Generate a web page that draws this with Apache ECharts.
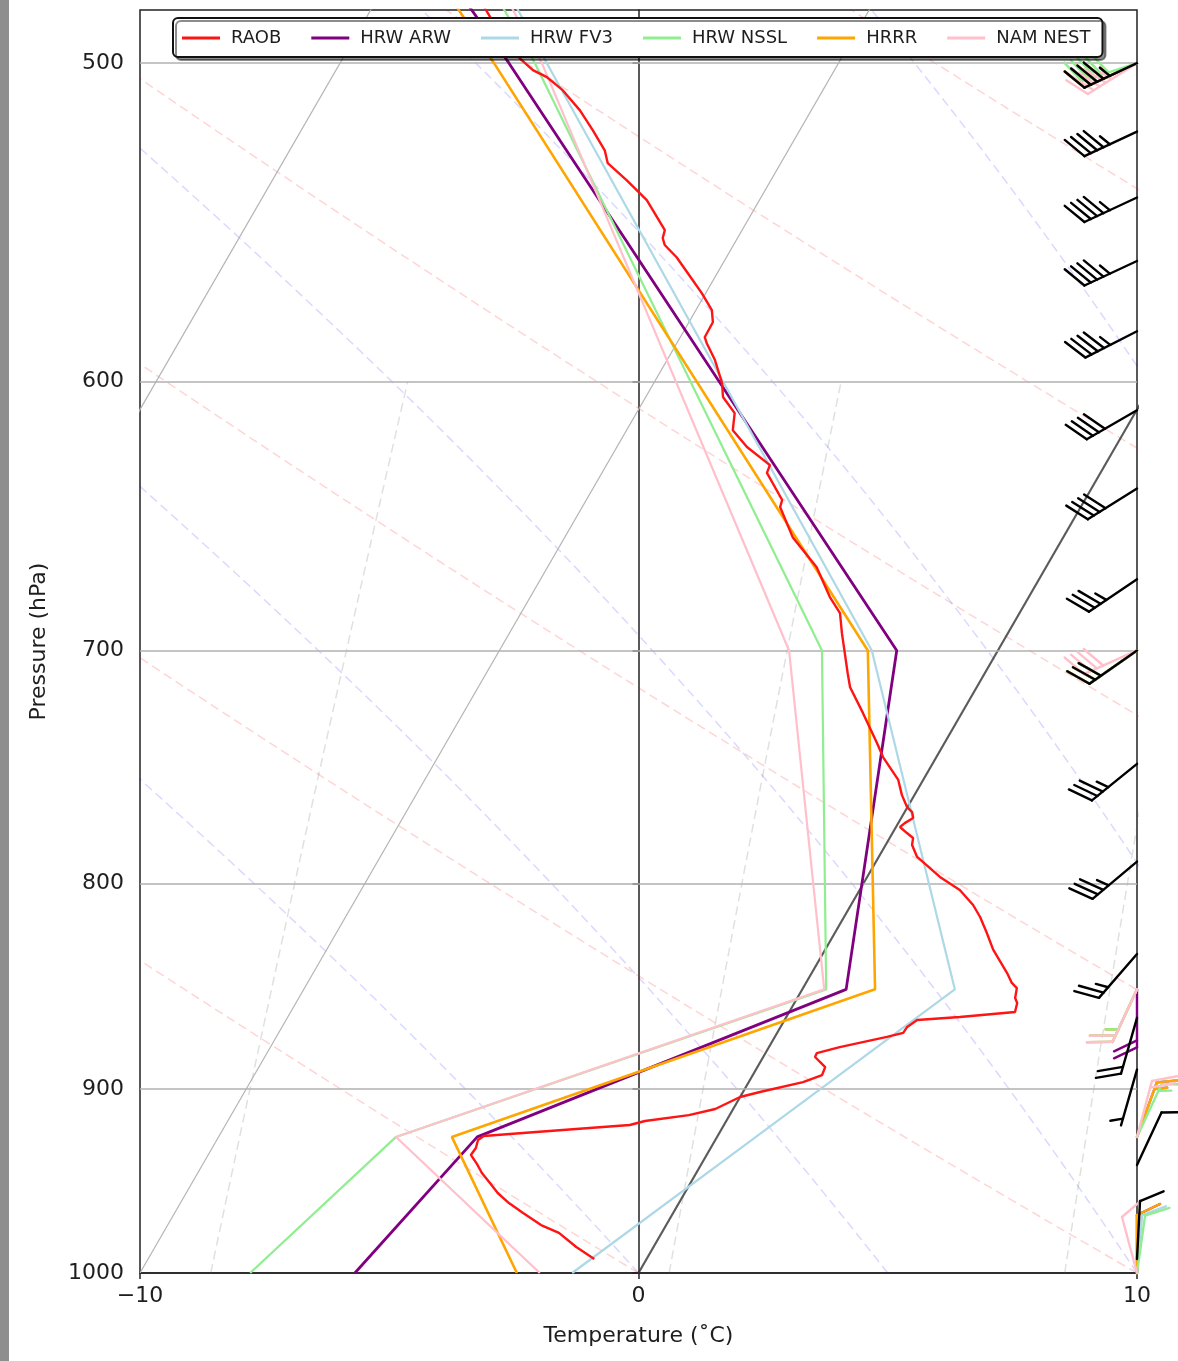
<!DOCTYPE html>
<html><head><meta charset="utf-8">
<script src="https://cdn.jsdelivr.net/npm/echarts@6/dist/echarts.min.js"></script>
<style>html,body{margin:0;padding:0;background:#fff}#c{width:1178px;height:1361px}</style>
</head><body><div id="c"></div>
<script>
// ---------------- data ----------------
const pressureTicks = [500, 600, 700, 800, 900, 1000];
const gridPressures = [500, 600, 700, 800, 900];
const tempTicks = [-10, 0, 10];
const isotherms = [-30, -20, -10, 10];
const seriesNames = ['RAOB', 'HRW ARW', 'HRW FV3', 'HRW NSSL', 'HRRR', 'NAM NEST'];

// model profiles at standard levels (hPa) -> temperature (degC)
const modelLevels = [1000, 925, 850, 700, 500, 400];
const arwTemp  = [-5.69, -4.81, 0.88, -2.03, -16.61, -26.6];
const fv3Temp  = [-1.33, 0.78, 3.06, -2.53, -15.85, -24.6];
const nsslTemp = [-7.79, -6.44, 0.48, -3.53, -16.09, -25.1];
const hrrrTemp = [-2.44, -5.32, 1.46, -2.61, -16.91, -26.6];
const namTemp  = [-1.98, -6.44, 0.44, -4.19, -15.95, -24.7];

// observed sounding
const raobPressure = [
  992.0, 985.2, 977.3, 972.9, 966.2, 960.7, 955.2, 949.2, 944.3, 939.5,
  934.6, 930.9, 926.6, 924.5, 922.9, 920.8, 918.7, 916.6, 913.5, 910.3,
  904.1, 901.5, 896.4, 892.8, 888.7, 883.6, 881.6, 878.6, 873.5, 871.5,
  868.5, 865.1, 863.6, 862.1, 861.1, 856.7, 854.2, 849.4, 846.9, 842.1,
  830.9, 823.0, 815.5, 809.9, 803.0, 797.0, 787.9, 782.5, 779.4, 777.2,
  774.5, 772.8, 770.5, 767.9, 765.7, 760.5, 753.9, 744.1, 738.2, 725.6,
  714.9, 709.2, 701.1, 693.1, 685.2, 678.9, 667.4, 656.0, 644.8, 642.2,
  632.3, 629.5, 623.0, 617.0, 611.0, 605.4, 600.6, 592.7, 587.0, 585.0,
  580.0, 576.0, 570.4, 566.2, 558.8, 554.9, 552.7, 550.2, 540.8, 534.7,
  529.5, 525.6, 519.6, 513.7, 507.8, 504.0, 502.0, 498.6, 493.5, 487.8,
  484.5, 480.0];
const raobTemp = [
  -1.05, -1.55, -2.06, -2.51, -3.01, -3.41, -3.75, -4.05, -4.30, -4.50,
  -4.73, -4.71, -4.76, -4.69, -3.94, -2.92, -1.89, -1.63, -0.82, -0.36,
  0.00, 0.34, 1.09, 1.39, 1.36, 1.04, 1.03, 1.42, 2.25, 2.53,
  2.54, 2.66, 3.48, 4.11, 4.53, 4.47, 4.37, 4.29, 4.13, 3.92,
  3.37, 3.05, 2.73, 2.45, 2.01, 1.46, 0.77, 0.53, 0.47, 0.29,
  0.08, 0.13, 0.24, 0.15, -0.01, -0.25, -0.50, -1.07, -1.35, -1.98,
  -2.54, -2.75, -3.04, -3.33, -3.60, -3.99, -4.60, -5.43, -6.03, -6.07,
  -6.69, -6.72, -7.39, -7.87, -8.03, -8.45, -8.63, -9.04, -9.40, -9.51,
  -9.52, -9.68, -10.08, -10.41, -11.00, -11.38, -11.50, -11.55, -12.26, -12.89,
  -13.47, -13.68, -14.15, -14.64, -15.22, -15.69, -16.05, -16.45, -16.96, -17.45,
  -17.73, -18.0];

// observed winds (direction deg, speed kt)
const barbPressure = [500, 520, 540, 560, 583, 610, 638, 672, 700, 747, 790, 833, 864, 890, 940, 992];
const barbDir      = [245, 245, 245, 245, 243, 240, 238, 236, 235, 231, 230, 221, 196, 196, 25, 3];
const barbSpeed    = [45, 45, 45, 45, 45, 40, 40, 35, 30, 35, 35, 25, 20, 5, 10, 10];

// model winds at standard levels
const modelBarbLevels = [500, 700, 850, 925, 1000];
const arwBarbDir  = [245, 235, 180, 20, 0],   arwBarbSpd  = [45, 30, 20, 15, 10];
const fv3BarbDir  = [245, 235, 205, 20, 5],   fv3BarbSpd  = [45, 30, 25, 15, 10];
const nsslBarbDir = [252, 235, 205, 25, 8],   nsslBarbSpd = [50, 30, 25, 15, 10];
const hrrrBarbDir = [245, 235, 205, 20, 0],   hrrrBarbSpd = [45, 30, 25, 15, 10];
const namBarbDir  = [238, 246, 205, 15, 345], namBarbSpd  = [45, 40, 20, 20, 10];

// background line families
const dryAdiabatStart = [-30, -20, -10, 0, 10, 20, 30, 40, 50, 60];
const moistAdiabatStart = [-10, 0, 5, 10, 15, 20, 25, 30];
const mixingRatios = [0.0004, 0.001, 0.002, 0.004, 0.007, 0.01, 0.016, 0.024, 0.032];

// ---------------- layout ----------------
const GL = 140, GR = 1137, GT = 10, GB = 1273;
const P_TOP = 485, P_BOT = 1000, T_MIN = -10, T_MAX = 10;
const K = Math.tan(Math.PI / 6) * ((GB - GT) / Math.log(P_BOT / P_TOP)) / ((GR - GL) / (T_MAX - T_MIN));
const skew = (T, p) => T + K * Math.log(P_BOT / p);

// ---------------- thermodynamics ----------------
const Rd = 287.04749, Cp = 1004.6662, Lv = 2.50084e6, EPS = 0.6219569;
const esat = Tc => 6.112 * Math.exp(17.67 * Tc / (Tc + 243.5));
function moistGrad(p, T) {
  const es = esat(T - 273.15), rs = EPS * es / (p - es);
  return (Rd * T + Lv * rs) / (p * (Cp + Lv * Lv * rs * EPS / (Rd * T * T)));
}
function pressureSamples(p0, p1, n) {
  const a = []; for (let i = 0; i <= n; i++) a.push(p0 + (p1 - p0) * i / n); return a;
}
function dryLine(t0) {
  return pressureSamples(P_BOT, 470, 60).map(p => [skew((t0 + 273.15) * Math.pow(p / 1000, Rd / Cp) - 273.15, p), p]);
}
function moistLine(t0) {
  let T = t0 + 273.15, p = 1000; const out = [[skew(t0, p), p]]; const dp = -5;
  while (p > 470) {
    const k1 = moistGrad(p, T), k2 = moistGrad(p + dp / 2, T + dp / 2 * k1),
          k3 = moistGrad(p + dp / 2, T + dp / 2 * k2), k4 = moistGrad(p + dp, T + dp * k3);
    T += dp / 6 * (k1 + 2 * k2 + 2 * k3 + k4); p += dp;
    out.push([skew(T - 273.15, p), p]);
  }
  return out;
}
function mixingLine(w) {
  return pressureSamples(1000, 600, 40).map(p => {
    const e = p * w / (EPS + w), v = Math.log(e / 6.112);
    return [skew(243.5 * v / (17.67 - v), p), p];
  });
}

// ---------------- series helpers ----------------
const series = [];
function addLine(name, data, color, width, z, dash) {
  series.push({
    type: 'line', name, data, z, silent: true, symbol: 'none', clip: true,
    lineStyle: { color, width, type: dash ? [9, 5] : 'solid', cap: 'butt' },
    itemStyle: { color }, emphasis: { disabled: true }
  });
}
dryAdiabatStart.forEach(t => addLine('dry' + t, dryLine(t), 'rgba(255,0,0,0.17)', 1.5, 1, true));
moistAdiabatStart.forEach(t => addLine('moist' + t, moistLine(t), 'rgba(0,0,255,0.15)', 1.5, 1, true));
mixingRatios.forEach(w => addLine('mix' + w, mixingLine(w), 'rgba(90,110,90,0.2)', 1.5, 1, true));
isotherms.forEach(t => addLine('iso' + t, [[skew(t, P_BOT), P_BOT], [skew(t, 470), 470]], '#b4b4b4', 1.2, 2, false));
addLine('iso0', [[skew(0, P_BOT), P_BOT], [skew(0, 470), 470]], 'rgba(50,50,50,0.8)', 2.2, 3, false);

// horizontal pressure grid
series.push({
  type: 'line', name: 'grid', data: [], silent: true, z: 2,
  markLine: {
    symbol: 'none', silent: true, label: { show: false }, animation: false,
    lineStyle: { color: '#b0b0b0', width: 1.5, type: 'solid' },
    data: gridPressures.map(p => ({ yAxis: p }))
  }
});

const modelSets = [
  ['HRW ARW', arwTemp, '#800080', 2.8],
  ['HRW FV3', fv3Temp, '#add8e6', 2.2],
  ['HRW NSSL', nsslTemp, '#90ee90', 2.2],
  ['HRRR', hrrrTemp, '#ffa500', 2.6],
  ['NAM NEST', namTemp, '#ffc0cb', 2.2]
];
modelSets.forEach(([n, temps, c, w], i) =>
  addLine(n, modelLevels.map((p, j) => [skew(temps[j], p), p]), c, w, 5 + i, false));
addLine('RAOB', raobPressure.map((p, j) => [skew(raobTemp[j], p), p]), '#ff1414', 2.4, 12, false);

// wind barbs
const STAFF = 58, BARB_H = 23, BARB_W = 11, SPACING = 7;
function addBarbs(name, pressures, dirs, speeds, color, z) {
  series.push({
    type: 'custom', name, silent: true, z, clip: false,
    data: pressures.map((p, i) => [T_MAX, p, dirs[i], speeds[i]]),
    encode: { x: 0, y: 1 },
    renderItem(params, api) {
      const a = api.coord([api.value(0), api.value(1)]);
      const d = api.value(2) * Math.PI / 180, spd = api.value(3);
      const s = [Math.sin(d), -Math.cos(d)], r = [-s[1], s[0]];
      const pt = (t, h) => [a[0] + t * s[0] + h * r[0], a[1] + t * s[1] + h * r[1]];
      const style = { stroke: color, lineWidth: 2.4, fill: null, lineCap: 'round', lineJoin: 'round' };
      const kids = [{ type: 'polyline', shape: { points: [a, pt(STAFF, 0)] }, style }];
      const nFull = Math.floor(spd / 10), half = (spd % 10) >= 5;
      let pos = STAFF;
      if (nFull === 0 && half) pos -= SPACING;
      for (let i = 0; i < nFull; i++) {
        kids.push({ type: 'polyline', shape: { points: [pt(pos, 0), pt(pos + BARB_W, BARB_H)] }, style });
        pos -= SPACING;
      }
      if (half) kids.push({ type: 'polyline', shape: { points: [pt(pos, 0), pt(pos + BARB_W / 2, BARB_H / 2)] }, style });
      return { type: 'group', children: kids };
    }
  });
}
addBarbs('barbARW', modelBarbLevels, arwBarbDir, arwBarbSpd, '#800080', 20);
addBarbs('barbFV3', modelBarbLevels, fv3BarbDir, fv3BarbSpd, '#add8e6', 21);
addBarbs('barbHRRR', modelBarbLevels, hrrrBarbDir, hrrrBarbSpd, '#ffa500', 22);
addBarbs('barbNSSL', modelBarbLevels, nsslBarbDir, nsslBarbSpd, '#90ee90', 23);
addBarbs('barbNAM', modelBarbLevels, namBarbDir, namBarbSpd, '#ffc0cb', 24);
addBarbs('barbRAOB', barbPressure, barbDir, barbSpeed, '#000000', 25);

// ---------------- chart ----------------
const chart = echarts.init(document.getElementById('c'), null, { renderer: 'canvas' });
const txt = '#1e1e1e';
chart.setOption({
  animation: false,
  backgroundColor: '#fff',
  textStyle: { fontFamily: 'DejaVu Sans' },
  graphic: [{ type: 'rect', left: 0, top: 0, shape: { width: 9, height: 1361 }, style: { fill: '#8e8e8e' }, silent: true }],
  grid: { left: GL, top: GT, width: GR - GL, height: GB - GT, show: true, borderColor: '#222', borderWidth: 1.5, backgroundColor: 'transparent' },
  legend: {
    data: seriesNames, left: 173, top: 18, icon: 'rect', itemWidth: 38, itemHeight: 3, itemGap: 30,
    padding: [10, 12, 9, 9], backgroundColor: '#fff', borderColor: '#111', borderWidth: 2, borderRadius: 5,
    shadowColor: 'rgba(0,0,0,0.45)', shadowOffsetX: 3, shadowOffsetY: 3, shadowBlur: 0,
    selectedMode: false, z: 30,
    textStyle: { fontSize: 18, color: txt, fontFamily: 'DejaVu Sans', padding: [0, 0, 0, 6], lineHeight: 20 }
  },
  xAxis: {
    type: 'value', min: T_MIN, max: T_MAX, interval: 10,
    name: 'Temperature (\u02DAC)', nameLocation: 'middle', nameGap: 52,
    nameTextStyle: { fontSize: 22, color: txt, fontFamily: 'DejaVu Sans' },
    axisLine: { show: true, lineStyle: { color: '#222', width: 1.5 } },
    axisTick: { show: true, length: 6, lineStyle: { color: '#222', width: 1.5 } },
    axisLabel: { fontSize: 22, color: txt, margin: 12, formatter: v => (v < 0 ? '\u2212' + Math.abs(v) : String(v)), customValues: tempTicks },
    splitLine: { show: false }
  },
  yAxis: {
    type: 'log', logBase: 10, min: P_TOP, max: P_BOT, inverse: true,
    name: 'Pressure (hPa)', nameLocation: 'middle', nameGap: 90, nameRotate: 90,
    nameTextStyle: { fontSize: 22, color: txt, fontFamily: 'DejaVu Sans' },
    axisLine: { show: true, lineStyle: { color: '#222', width: 1.5 } },
    axisTick: { show: true, length: 6, lineStyle: { color: '#222', width: 1.5 }, customValues: pressureTicks },
    axisLabel: { fontSize: 22, color: txt, margin: 16, customValues: pressureTicks, formatter: v => String(Math.round(v)) },
    splitLine: { show: false }, minorTick: { show: false }
  },
  series
});
</script></body></html>
